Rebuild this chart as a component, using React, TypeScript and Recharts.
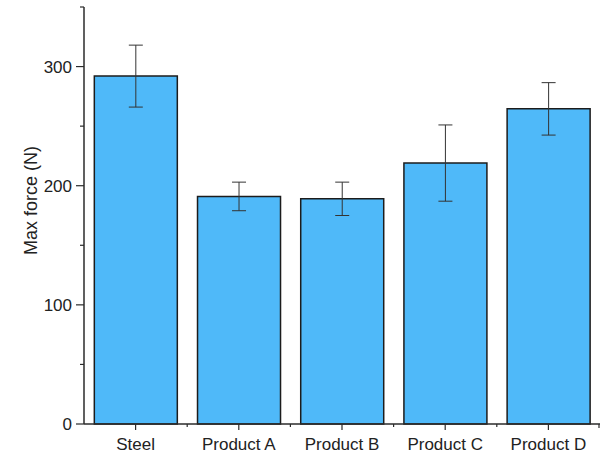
import { BarChart, Bar, XAxis, YAxis, ErrorBar } from "recharts"

const samples = ["Steel", "Product A", "Product B", "Product C", "Product D"]
const maxForce = [292, 191, 189, 219, 264.5]
const forceError = [26, 12, 14, 32, 22]
const yTicks = [0, 50, 100, 150, 200, 250, 300, 350]

const data = samples.map((name, i) => ({ name, force: maxForce[i], err: forceError[i] }))

const W = 601
const H = 455
const M = { top: 7, right: 1, left: 0, bottom: 0 }
const Y_AXIS_W = 84
const X_AXIS_H = 31
const band = (W - M.left - M.right - Y_AXIS_W) / samples.length

const AXIS = "#2b2b2b"
const FONT = "'Liberation Sans', Arial, sans-serif"

// tickSize/tickMargin are 0, so x/y here sit right on the axis line
function YTick({ x, y, payload }: any) {
  const major = payload.value % 100 === 0 && payload.value < 350
  return (
    <g>
      <line x1={x - (major ? 8 : 4)} x2={x} y1={y} y2={y} stroke={AXIS} strokeWidth={1.2} />
      {major && (
        <text x={x - 12} y={y} dy={6} textAnchor="end" fontSize={17} fill="#222" fontFamily={FONT}>
          {payload.value}
        </text>
      )}
    </g>
  )
}

function XTick({ x, y, payload, index }: any) {
  const left = x - band / 2
  const last = index === samples.length - 1
  return (
    <g>
      <line x1={x} x2={x} y1={y} y2={y + 6} stroke={AXIS} strokeWidth={1.2} />
      {index > 0 && <line x1={left} x2={left} y1={y} y2={y + 3} stroke={AXIS} strokeWidth={1.2} />}
      {last && <line x1={x + band / 2 - 1} x2={x + band / 2 - 1} y1={y} y2={y + 4} stroke={AXIS} strokeWidth={1.2} />}
      <text x={x} y={y + 26} textAnchor="middle" fontSize={17} fill="#222" fontFamily={FONT}>
        {payload.value}
      </text>
    </g>
  )
}

function AxisTitle({ viewBox }: any) {
  const cy = viewBox.y + viewBox.height / 2 - 15
  return (
    <text
      x={31}
      y={cy}
      transform={`rotate(-90, 31, ${cy})`}
      textAnchor="middle"
      dominantBaseline="central"
      fontSize={18}
      fill="#222"
      fontFamily={FONT}
    >
      Max force (N)
    </text>
  )
}

export default function App() {
  return (
    <div style={{ position: "absolute", left: 0, top: 0, width: W, height: H, background: "#fff" }}>
      <BarChart width={W} height={H} data={data} margin={M} barCategoryGap="10%">
        <XAxis
          dataKey="name"
          height={X_AXIS_H}
          axisLine={{ stroke: AXIS, strokeWidth: 1.5 }}
          tickLine={false}
          tickSize={0}
          tickMargin={0}
          tick={<XTick />}
          interval={0}
        />
        <YAxis
          width={Y_AXIS_W}
          domain={[0, 350]}
          ticks={yTicks}
          axisLine={{ stroke: AXIS, strokeWidth: 1.5 }}
          tickLine={false}
          tickSize={0}
          tickMargin={0}
          tick={<YTick />}
          interval={0}
          label={<AxisTitle />}
        />
        <Bar dataKey="force" fill="#4fb9f9" stroke="#1c1c1c" strokeWidth={1.5} isAnimationActive={false}>
          <ErrorBar dataKey="err" width={7} stroke="#333" strokeWidth={1} direction="y" />
        </Bar>
      </BarChart>
    </div>
  )
}
